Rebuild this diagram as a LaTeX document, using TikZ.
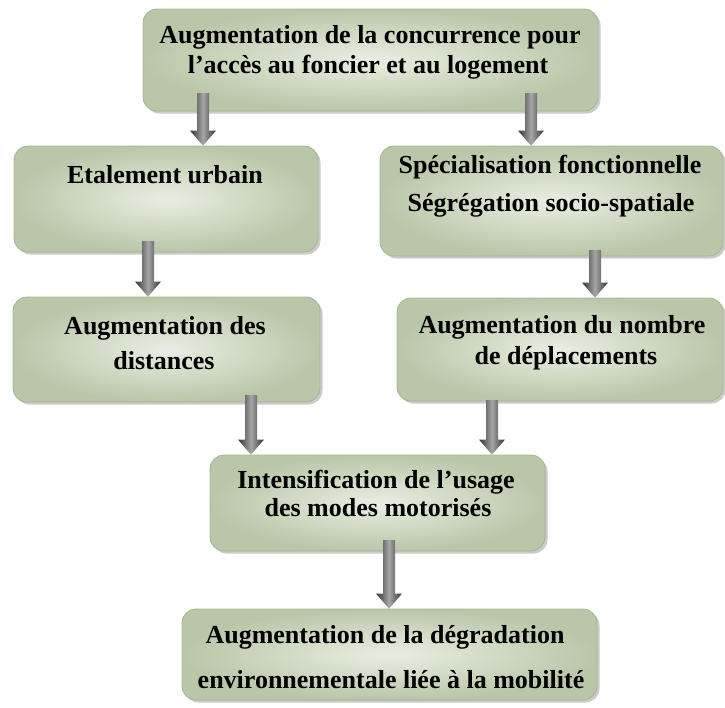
\documentclass[tikz,border=0pt]{standalone}
\usepackage{fontspec}
\setmainfont{Liberation Serif}
\usetikzlibrary{shadows,calc}
\definecolor{boxlight}{HTML}{E9EEE3}
\definecolor{boxdark}{HTML}{B9C7A8}
\definecolor{boxborder}{HTML}{A3B491}
\tikzset{
  box/.style={draw=boxborder, line width=0.8pt, rounded corners=14pt,
    inner color=boxlight, outer color=boxdark,
    drop shadow={shadow xshift=2.5pt, shadow yshift=-2.5pt, fill=black!45, opacity=0.45}},
  txt/.style={font=\fontsize{26}{30}\selectfont\bfseries, anchor=base, inner sep=0pt},
  arrowshade/.style={left color=black!80, right color=black!80, middle color=black!35}
}
\newcommand\blockarrow[2]{%
  \shade[arrowshade] let \p1=(#1), \p2=(#2) in
    (\x1-6pt,\y1) -- (\x1+6pt,\y1) -- (\x1+6pt,\y2+15pt) -- (\x1+13pt,\y2+15pt)
    -- (\x1,\y2) -- (\x1-13pt,\y2+15pt) -- (\x1-6pt,\y2+15pt) -- cycle;}
\begin{document}
\begin{tikzpicture}[x=1pt,y=-1pt]
\useasboundingbox (0,0) rectangle (725,707);
% boxes
\node[box, minimum width=455pt, minimum height=102pt] (b1) at (370.5,60) {};
\node[box, minimum width=304pt, minimum height=106pt] (b2) at (166,199) {};
\node[box, minimum width=343pt, minimum height=110pt] (b3) at (551.5,201) {};
\node[box, minimum width=307pt, minimum height=105pt] (b4) at (166.5,349.5) {};
\node[box, minimum width=326pt, minimum height=103pt] (b5) at (560,349.5) {};
\node[box, minimum width=335pt, minimum height=96pt] (b6) at (377.5,503) {};
\node[box, minimum width=415pt, minimum height=91pt] (b7) at (389.5,654.5) {};
% texts
\node[txt] (t1a) at (370,43) {Augmentation de la concurrence pour};
\node[txt] (t1b) at (368,73) {l’accès au foncier et au logement};
\node[txt] (t2a) at (165,183) {Etalement urbain};
\node[txt] (t3a) at (550,173) {Spécialisation fonctionnelle};
\node[txt] (t3b) at (551,211) {Ségrégation socio-spatiale};
\node[txt] (t4a) at (165,334) {Augmentation des};
\node[txt] (t4b) at (164,369) {distances};
\node[txt] (t5a) at (562,333) {Augmentation du nombre};
\node[txt] (t5b) at (566,364) {de déplacements};
\node[txt] (t6a) at (376,488) {Intensification de l’usage};
\node[txt] (t6b) at (378,516) {des modes motorisés};
\node[txt] (t7a) at (385,643) {Augmentation de la dégradation};
\node[txt] (t7b) at (391,688) {environnementale liée à la mobilité};
% arrow starts
\coordinate (s1) at (203,93);
\coordinate (s2) at (531,93);
\coordinate (s3) at (148,241);
\coordinate (s4) at (595,250);
\coordinate (s5) at (251,395);
\coordinate (s6) at (492,400);
\coordinate (s7) at (389,540);
\blockarrow{s1}{s1 |- b2.north}
\blockarrow{s2}{s2 |- b3.north}
\blockarrow{s3}{s3 |- b4.north}
\blockarrow{s4}{s4 |- b5.north}
\blockarrow{s5}{s5 |- b6.north}
\blockarrow{s6}{s6 |- b6.north}
\blockarrow{s7}{s7 |- b7.north}
\end{tikzpicture}
\end{document}
